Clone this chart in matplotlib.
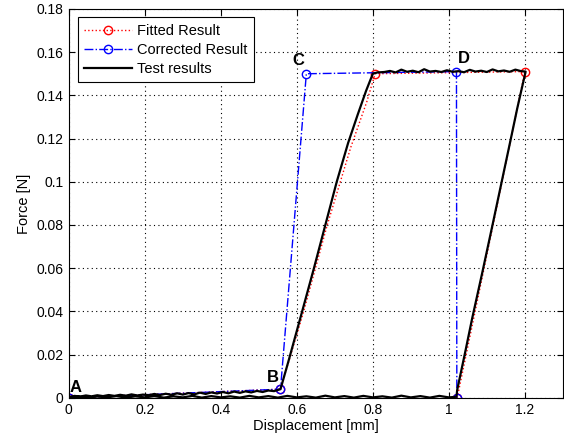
import numpy as np
import matplotlib
matplotlib.use("Agg")
import matplotlib.pyplot as plt

plt.rcParams["font.family"] = ["Liberation Sans", "DejaVu Sans"]
plt.rcParams["font.size"] = 10

# test data
load_x = [0.000, 0.015, 0.030, 0.045, 0.060, 0.075, 0.090, 0.105, 0.120, 0.135,
          0.150, 0.165, 0.180, 0.195, 0.210, 0.225, 0.240, 0.255, 0.270, 0.285,
          0.300, 0.315, 0.330, 0.345, 0.360, 0.375, 0.390, 0.405, 0.420, 0.435,
          0.450, 0.465, 0.480, 0.495, 0.510, 0.525, 0.540, 0.557]
load_y = [0.0004, 0.0009, 0.0006, 0.0011, 0.0007, 0.0012, 0.0008, 0.0013, 0.0009, 0.0014,
          0.0010, 0.0016, 0.0011, 0.0015, 0.0012, 0.0018, 0.0013, 0.0019, 0.0014, 0.0021,
          0.0015, 0.0022, 0.0016, 0.0024, 0.0018, 0.0025, 0.0020, 0.0027, 0.0021, 0.0029,
          0.0023, 0.0030, 0.0025, 0.0032, 0.0027, 0.0034, 0.0031, 0.0040]
rise_x = [0.579, 0.614, 0.645, 0.675, 0.705, 0.735, 0.760, 0.782, 0.800, 0.812]
rise_y = [0.0176, 0.0400, 0.0600, 0.0800, 0.1000, 0.1180, 0.1310, 0.1420, 0.1500, 0.1506]
flat_x = [0.830, 0.845, 0.860, 0.875, 0.890, 0.905, 0.920, 0.935, 0.950, 0.965,
          0.980, 0.995, 1.010, 1.025, 1.040, 1.055, 1.070, 1.085, 1.100, 1.115,
          1.130, 1.145, 1.160, 1.175, 1.190, 1.202]
flat_y = [0.1508, 0.1513, 0.1506, 0.1519, 0.1509, 0.1514, 0.1507, 0.1521, 0.1510, 0.1513,
          0.1508, 0.1516, 0.1509, 0.1512, 0.1507, 0.1518, 0.1510, 0.1514, 0.1508, 0.1520,
          0.1511, 0.1515, 0.1509, 0.1519, 0.1512, 0.1510]
unload_x = [1.180, 1.162, 1.136, 1.114, 1.088, 1.061, 1.044, 1.022, 1.020]
unload_y = [0.1340, 0.1190, 0.0975, 0.0793, 0.0580, 0.0365, 0.0220, 0.0037, 0.0005]
return_x = [1.000, 0.975, 0.950, 0.925, 0.900, 0.875, 0.850, 0.825, 0.800, 0.775,
            0.750, 0.725, 0.700, 0.675, 0.650, 0.625, 0.600, 0.575, 0.550, 0.525,
            0.500, 0.475, 0.450, 0.425, 0.400, 0.375, 0.350, 0.325, 0.300, 0.275,
            0.250, 0.225, 0.200, 0.175, 0.150, 0.125, 0.100, 0.075, 0.050, 0.025, 0.000]
return_y = [0.0002, 0.0009, 0.0001, 0.0008, 0.0002, 0.0010, 0.0001, 0.0007, 0.0002, 0.0009,
            0.0001, 0.0008, 0.0002, 0.0010, 0.0001, 0.0007, 0.0002, 0.0009, 0.0001, 0.0008,
            0.0002, 0.0009, 0.0001, 0.0007, 0.0002, 0.0008, 0.0001, 0.0009, 0.0002, 0.0007,
            0.0001, 0.0008, 0.0002, 0.0007, 0.0001, 0.0008, 0.0002, 0.0006, 0.0001, 0.0005, 0.0001]

fit_x = [0.000, 0.557, 0.618, 0.680, 0.742, 0.784, 0.806, 1.200, 1.022]
fit_y = [0.000, 0.004, 0.040, 0.080, 0.116, 0.137, 0.150, 0.151, 0.000]
fit_marks = [0, 1, 6, 7, 8]

corr_x = [0.000, 0.557, 0.625, 1.020, 1.021]
corr_y = [0.000, 0.004, 0.150, 0.151, 0.000]

point_labels = ["A", "B", "C", "D"]
label_x = [0.018, 0.537, 0.603, 1.039]
label_y = [0.005, 0.0096, 0.156, 0.157]

test_x = load_x + rise_x + flat_x + unload_x + return_x
test_y = load_y + rise_y + flat_y + unload_y + return_y

fig = plt.figure(figsize=(5.64, 4.46), dpi=100)
ax = fig.add_axes([0.122, 0.108, 0.876, 0.872])

ax.plot(fit_x, fit_y, color="r", linestyle=":", linewidth=1.0, marker="o",
        markevery=fit_marks, markersize=6, markerfacecolor="none",
        markeredgecolor="r", label="Fitted Result")
ax.plot(corr_x, corr_y, color="b", linestyle="-.", linewidth=1.0, marker="o",
        markersize=6, markerfacecolor="none", markeredgecolor="b",
        label="Corrected Result")
ax.plot(test_x, test_y, color="k", linewidth=1.6, label="Test results")

for lab, lx, ly in zip(point_labels, label_x, label_y):
    ax.text(lx, ly, lab, fontsize=12, fontweight="bold", ha="center", va="center")

ax.set_xlim(0, 1.3)
ax.set_ylim(0, 0.18)
ax.set_xticks([0, 0.2, 0.4, 0.6, 0.8, 1.0, 1.2])
ax.set_xticklabels(["0", "0.2", "0.4", "0.6", "0.8", "1", "1.2"])
ax.set_yticks(np.arange(0, 0.181, 0.02))
ax.set_yticklabels(["0", "0.02", "0.04", "0.06", "0.08", "0.1", "0.12",
                    "0.14", "0.16", "0.18"])
ax.tick_params(direction="in", top=True, right=True, length=4, labelsize=10, pad=4)
ax.grid(True, color="k", linestyle=(0, (1, 3)), linewidth=0.8)
ax.set_xlabel("Displacement [mm]", fontsize=10.5, labelpad=1)
ax.set_ylabel("Force [N]", fontsize=10.5, labelpad=4)

leg = ax.legend(loc="upper left", bbox_to_anchor=(0.018, 0.979), borderaxespad=0,
                fontsize=10.5, handlelength=3.3, fancybox=False, framealpha=1,
                edgecolor="k", borderpad=0.45, labelspacing=0.35, handletextpad=0.3)
leg.get_frame().set_linewidth(0.8)

fig.savefig("out.png", dpi=100)
